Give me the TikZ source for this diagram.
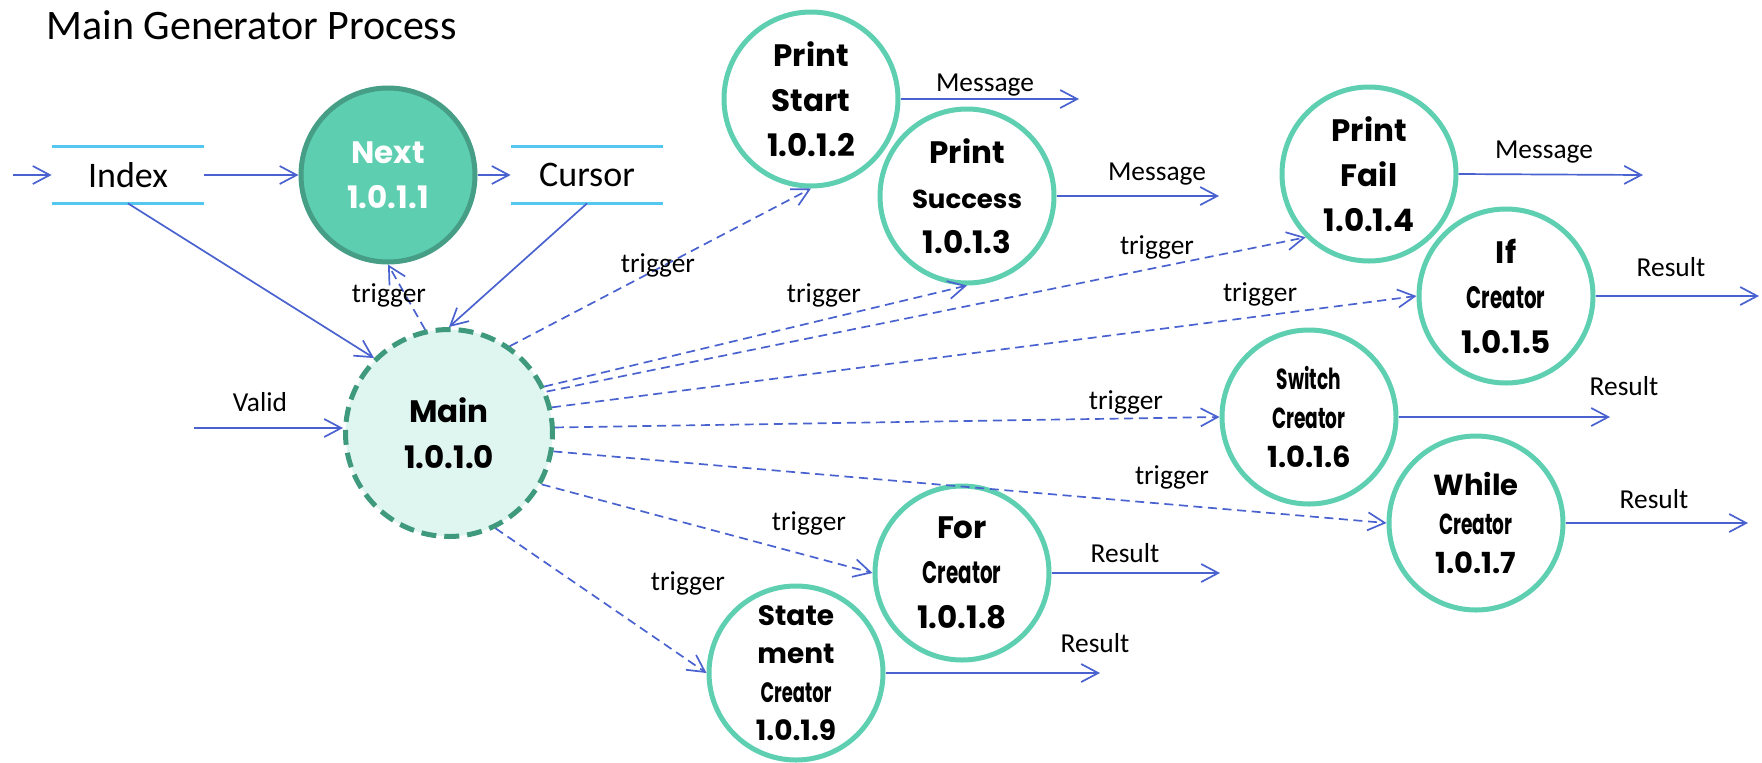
\documentclass[tikz,border=0pt]{standalone}
\usepackage{fontspec}
\setmainfont{Carlito}
\newfontfamily\circfont{Poppins}
\usepackage{graphicx}
\usetikzlibrary{arrows.meta}
\definecolor{flowblue}{HTML}{4A62CF}
\definecolor{storeblue}{HTML}{55C6EF}
\definecolor{procgreen}{HTML}{5ECFB1}
\definecolor{nextfill}{HTML}{5DCEB0}
\definecolor{nextborder}{HTML}{459E85}
\definecolor{mainfill}{HTML}{DFF5EF}
\definecolor{mainborder}{HTML}{3F9A7D}
\newcommand{\sq}[1]{\scalebox{0.64}[1]{#1}}
\tikzset{
  proc/.style={circle, draw=procgreen, line width=2.5pt, fill=white, minimum size=87pt,
    inner sep=0pt, align=center, text=black,
    font=\circfont\bfseries\fontsize{15.5}{22.5}\selectfont},
  smallproc/.style={proc, font=\circfont\bfseries\fontsize{14.5}{19.5}\selectfont},
  storenode/.style={minimum width=76pt, minimum height=28pt, inner sep=0pt,
    font=\fontsize{18}{20}\selectfont},
  storeline/.style={draw=storeblue, line width=1.2pt},
  flow/.style={draw=flowblue, line width=0.85pt, -{Straight Barb[length=8.5pt,width=9pt]}},
  trig/.style={flow, dash pattern=on 4.5pt off 2.8pt},
  lbl/.style={font=\fontsize{13.7}{16}\selectfont, inner sep=0pt, text=black}
}
\begin{document}
\begin{tikzpicture}[x=0.5pt,y=-0.5pt]
\useasboundingbox (0,0) rectangle (1762,762);

% title
\node[anchor=west, inner sep=0pt, font=\fontsize{21}{24}\selectfont] (title) at (46,25) {Main Generator Process};

% data stores
\node[storenode] (index) at (128,175) {Index};
\node[storenode] (cursor) at (587,175) {Cursor};
\draw[storeline] (index.north west) -- (index.north east);
\draw[storeline] (index.south west) -- (index.south east);
\draw[storeline] (cursor.north west) -- (cursor.north east);
\draw[storeline] (cursor.south west) -- (cursor.south east);

% processes
\node[circle, draw=nextborder, fill=nextfill, line width=2.5pt, minimum size=87pt, inner sep=0pt,
  align=center, text=white, font=\circfont\bfseries\fontsize{15.5}{22.5}\selectfont] (next) at (388,175) {Next\\1.0.1.1};
\node[circle, draw=mainborder, fill=mainfill, line width=2.5pt, dash pattern=on 7.5pt off 4pt,
  minimum size=103.5pt, inner sep=0pt, align=center, text=black,
  font=\circfont\bfseries\fontsize{15.5}{23}\selectfont] (main) at (449,433) {Main\\1.0.1.0};

\node[proc] (ps) at (811,99) {Print\\Start\\1.0.1.2};
\node[proc] (psu) at (967,196) {Print\\{\fontsize{13}{16}\selectfont Success}\\1.0.1.3};
\node[proc] (pf) at (1369,174) {Print\\Fail\\1.0.1.4};
\node[proc] (if) at (1506,296) {If\\\sq{Creator}\\1.0.1.5};
\node[smallproc] (sw) at (1309,417) {\sq{Switch}\\\sq{Creator}\\1.0.1.6};
\node[smallproc] (wh) at (1476,523) {While\\\sq{Creator}\\1.0.1.7};
\node[proc] (fo) at (962,573) {For\\\sq{Creator}\\1.0.1.8};
\node[proc, font=\circfont\bfseries\fontsize{14}{19.2}\selectfont] (st) at (796,673) {State\\ment\\\sq{Creator}\\1.0.1.9};

% free ends
\coordinate (inidx) at (13,175);
\coordinate (vin) at (194,428);
\coordinate (m1) at (1079,99);
\coordinate (m2) at (1219,196);
\coordinate (m3) at (1643,175);
\coordinate (r5) at (1759,296);
\coordinate (r6) at (1610,417);
\coordinate (r7) at (1748,523);
\coordinate (r8) at (1220,573);
\coordinate (r9) at (1100,673);

% solid flows
\draw[flow] (inidx) -- (index.west);
\draw[flow] (index.east) -- (next.west);
\draw[flow] (next.east) -- (cursor.west);
\draw[flow] (index.south) -- (main.135);
\draw[flow] (cursor.south) -- (main.north);
\draw[flow] (vin) -- (vin -| main.west);
\node[lbl] (lvalid) at (260,402) {Valid};

\draw[flow] (ps.east) -- (m1);
\draw[flow] (psu.east) -- (m2);
\draw[flow] (pf.east) -- (m3);
\draw[flow] (if.east) -- (r5);
\draw[flow] (sw.east) -- (r6);
\draw[flow] (wh.east) -- (r7);
\draw[flow] (fo.east) -- (r8);
\draw[flow] (st.east) -- (r9);

\node[lbl] (lm1) at (985,85) {Message};
\node[lbl] (lm2) at (1157,174) {Message};
\node[lbl] (lm3) at (1544,152) {Message};
\node[lbl] (lr5) at (1671,267) {Result};
\node[lbl] (lr6) at (1624,386) {Result};
\node[lbl] (lr7) at (1654,499) {Result};
\node[lbl] (lr8) at (1125,553) {Result};
\node[lbl] (lr9) at (1095,643) {Result};

% triggers
\draw[trig] (main.103) -- (next.south);
\draw[trig] (main.55) -- (ps.south);
\draw[trig] (main.26) -- (psu.south);
\draw[trig] (main.23) -- (pf.225);
\draw[trig] (main.14.5) -- (if.west);
\draw[trig] (main.3) -- (sw.west);
\draw[trig] (main.-10) -- (wh.west);
\draw[trig] (main.-29) -- (fo.west);
\draw[trig] (main.-64) -- (st.west);

\node[lbl] (t1) at (389,295) {trigger};
\node[lbl] (t2) at (658,265) {trigger};
\node[lbl] (t3) at (824,295) {trigger};
\node[lbl] (t4) at (1157,247) {trigger};
\node[lbl] (t5) at (1260,294) {trigger};
\node[lbl] (t6) at (1126,402) {trigger};
\node[lbl] (t7) at (1172,477) {trigger};
\node[lbl] (t8) at (809,523) {trigger};
\node[lbl] (t9) at (688,583) {trigger};
\end{tikzpicture}
\end{document}
